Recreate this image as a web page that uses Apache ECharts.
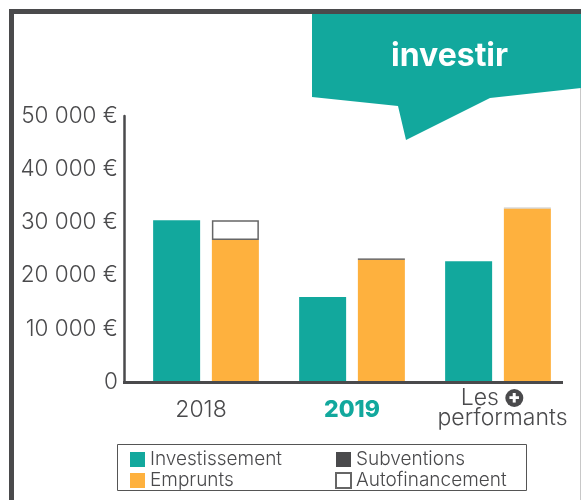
<!DOCTYPE html>
<html><head><meta charset="utf-8">
<style>html,body{margin:0;padding:0;background:#fff}#c{width:581px;height:500px}</style>
<script src="https://cdn.jsdelivr.net/npm/echarts@6/dist/echarts.min.js"></script>
</head><body><div id="c"></div>
<script>
const categories = ['2018', '2019', 'Les performants'];
const investissement = [30400, 16000, 22700];
const emprunts = [26700, 23000, 32600];
const subventions = [0, 200, 200];
const autofinancement = [3700, null, null];
const yMax = 50000, yStep = 10000;

const teal = '#12a89d', orange = '#feb13e', dark = '#4a4a4c';
const fontFamily = 'Inter';
const chart = echarts.init(document.getElementById('c'), null, {renderer: 'canvas'});
const barBase = {type: 'bar', barWidth: 47, barGap: '25%', silent: true};
const legendText = {color: dark, fontSize: 19, fontWeight: 300, fontFamily};
chart.setOption({
  animation: false,
  textStyle: {fontFamily},
  grid: {left: 133, top: 116, width: 438, height: 266, containLabel: false},
  xAxis: {
    type: 'category', data: categories,
    axisLine: {show: false}, axisTick: {show: false},
    axisLabel: {
      margin: 6, interval: 0, color: dark, fontSize: 23, fontWeight: 300, lineHeight: 20, fontFamily,
      formatter: v => v === '2018' ? '{a|2018}' : v === '2019' ? '{b|2019}' : 'Les {p|+}{s| }\n{q|performants}',
      rich: {
        a: {color: dark, fontSize: 23, fontWeight: 300, fontFamily, padding: [24, 10, 0, 0]},
        b: {color: teal, fontWeight: 800, fontSize: 23, fontFamily, padding: [24, 0, 0, 0]},
        p: {color: '#fff', backgroundColor: dark, borderRadius: 9, width: 18, height: 18, lineHeight: 18,
            align: 'center', fontWeight: 900, fontSize: 18, fontFamily},
        q: {color: dark, fontSize: 23, fontWeight: 300, fontFamily, padding: [0, 0, 0, 9]},
        s: {width: 12, fontSize: 10}
      }
    }
  },
  yAxis: {
    type: 'value', min: 0, max: yMax, interval: yStep, offset: 9,
    splitLine: {show: false}, axisTick: {show: false},
    axisLine: {show: true, lineStyle: {color: dark, width: 2.5}},
    axisLabel: {margin: 6, color: dark, fontSize: 22.5, fontWeight: 300, fontFamily, padding: [4, 0, 0, 0],
      formatter: v => v === 0 ? '0' : String(v).replace(/(\d{3})$/, ' $1') + ' €'}
  },
  legend: [
    {data: ['Investissement', 'Emprunts'], orient: 'vertical', left: 130, top: 450, height: 80, padding: 0,
     itemWidth: 15, itemHeight: 15, itemGap: 2, icon: 'rect', selectedMode: false, textStyle: legendText},
    {data: ['Subventions', 'Autofinancement'], orient: 'vertical', left: 335, top: 450, height: 80, padding: 0,
     itemWidth: 15, itemHeight: 15, itemGap: 2, icon: 'rect', selectedMode: false, textStyle: legendText}
  ],
  series: [
    {...barBase, name: 'Investissement', stack: 'a', data: investissement, itemStyle: {color: teal}},
    {...barBase, name: 'Emprunts', stack: 'b', data: emprunts, itemStyle: {color: orange}},
    {...barBase, name: 'Subventions', stack: 'b', itemStyle: {color: dark},
     data: subventions.map((v, i) => i === 2 ? {value: v, itemStyle: {color: '#c8c8c8'}} : v)},
    {...barBase, name: 'Autofinancement', stack: 'b', data: autofinancement,
     itemStyle: {color: '#fff', borderColor: '#666', borderWidth: 1.5}}
  ],
  graphic: [
    {type: 'polyline', silent: true, z: 5, shape: {points: [[11.5, 500], [11.5, 11.5], [581, 11.5]]},
     style: {stroke: dark, lineWidth: 5, fill: null}},
    {type: 'line', silent: true, z: 5, shape: {x1: 580.5, y1: 88, x2: 580.5, y2: 500},
     style: {stroke: '#c8c8c8', lineWidth: 1}},
    {type: 'polygon', silent: true, z: 6,
     shape: {points: [[312, 14], [581, 14], [581, 88], [490, 98], [406, 140], [398, 106], [312, 97]]},
     style: {fill: teal}},
    {type: 'text', silent: true, z: 7, left: 391, top: 40,
     style: {text: 'investir', fill: '#fff', fontSize: 32, fontWeight: 700, fontFamily}},
    {type: 'line', silent: true, z: 5, shape: {x1: 123, y1: 382.5, x2: 563, y2: 382.5},
     style: {stroke: dark, lineWidth: 3}},
    {type: 'rect', silent: true, z: 1, shape: {x: 117.5, y: 444.5, width: 409, height: 46},
     style: {fill: null, stroke: '#555', lineWidth: 1}}
  ]
});
</script></body></html>
